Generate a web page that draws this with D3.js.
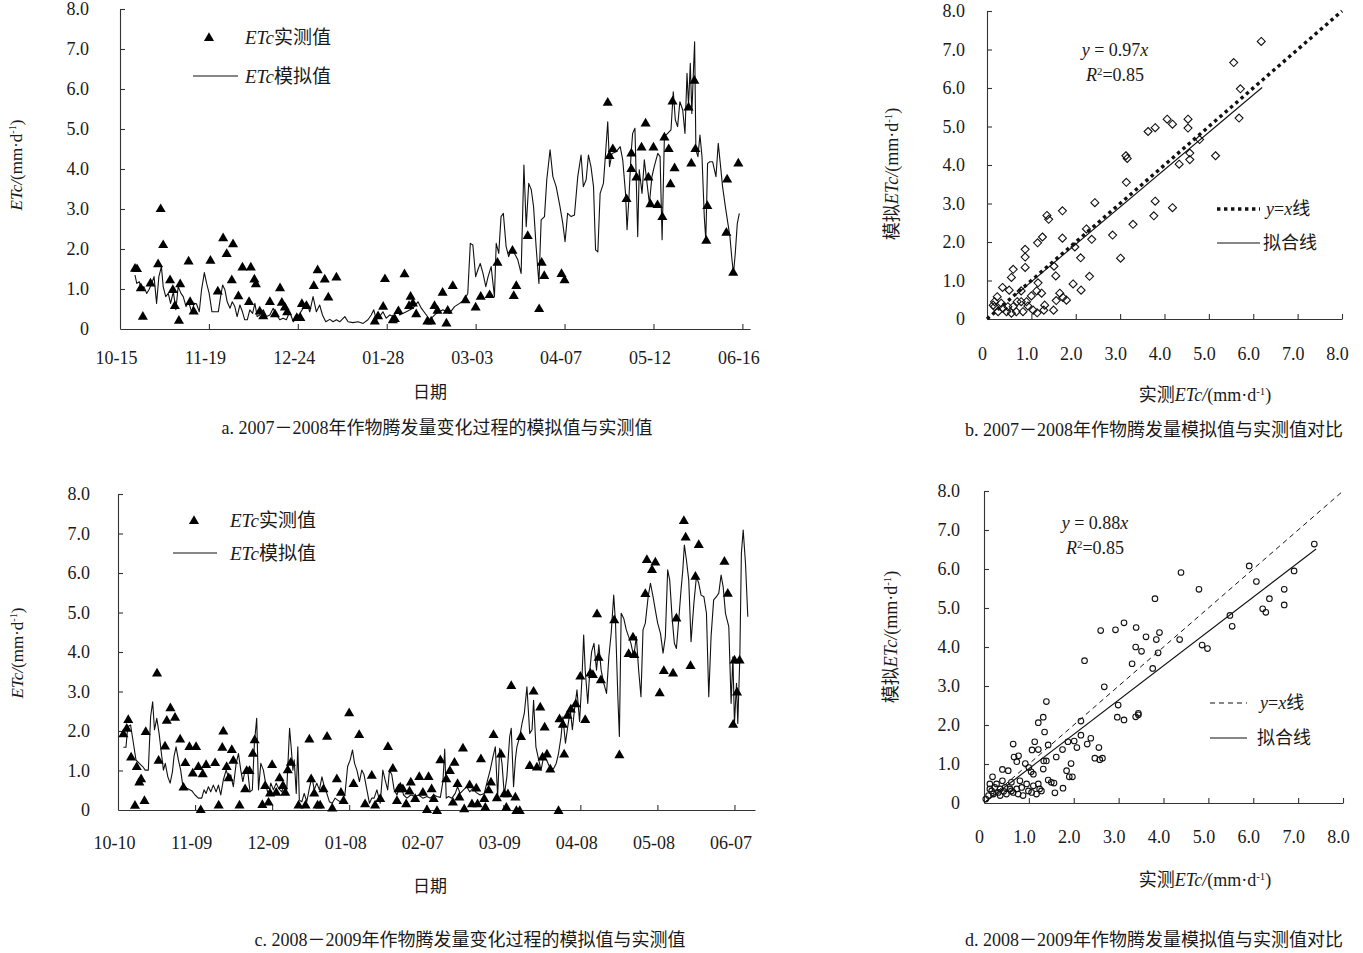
<!DOCTYPE html>
<html><head><meta charset="utf-8">
<script src="https://cdn.jsdelivr.net/npm/d3@7"></script>
<style>
body{margin:0;background:#fff}
svg text{font-family:"Liberation Serif","Noto Sans CJK SC",serif;fill:#1a1a1a}
</style>
</head><body>
<svg id="chart" width="1363" height="953"></svg>
<script>
// ---------- DATA ----------
const aTickLabels = ["10-15","11-19","12-24","01-28","03-03","04-07","05-12","06-16"]; // every 35 days
const cTickLabels = ["10-10","11-09","12-09","01-08","02-07","03-09","04-08","05-08","06-07"]; // every 30 days
const valueTicks = [0,1,2,3,4,5,6,7,8];

// panel a: [day since 10-15, ETc]
const aMeasured = [[5.9,1.53],[6.7,1.52],[8.2,1.04],[9,0.33],[12,1.16],[15,1.64],[16,3.02],[17,2.12],[19.7,1.24],[20.8,1.0],[21.6,0.6],[23.2,0.23],[23.7,1.14],[27,1.71],[27.6,0.7],[29,0.46],[35.6,1.73],[38.5,0.96],[40.6,2.29],[42,1.9],[44.5,2.14],[44,1.24],[46.6,0.84],[48.2,1.56],[50.8,0.7],[51.5,1.56],[52.9,1.26],[53.5,1.14],[55,0.46],[56.4,0.34],[59,0.7],[61,0.39],[63,1.04],[63.7,0.68],[64.9,0.56],[65.8,0.44],[69.6,0.3],[71,0.3],[71.6,0.65],[73.4,0.6],[76.3,1.1],[77.8,1.49],[80.6,1.26],[82,0.81],[85.2,1.31],[100.3,0.21],[101.6,0.34],[103.6,0.58],[104.3,1.27],[107.4,0.24],[108.2,0.27],[109.6,0.47],[112,1.39],[113.8,0.6],[114.4,0.83],[115.3,0.66],[116.6,0.39],[121,0.21],[122.5,0.21],[123.8,0.6],[125,0.48],[127,0.93],[128.5,0.16],[129,0.48],[131,1.1],[136,0.74],[140,0.56],[142,0.83],[145.5,0.87],[148.6,1.68],[154.5,1.98],[155,0.85],[156,1.1],[160.5,2.35],[165,0.52],[166,1.68],[167,1.35],[173.8,1.4],[175,1.24],[192,5.68],[192.7,4.35],[194,4.52],[199.4,3.27],[201.3,4.41],[201.3,4.02],[203.3,3.81],[205.3,4.56],[206.9,5.16],[208,3.81],[208.8,3.14],[210,4.56],[211.6,3.12],[213.5,2.82],[214.3,4.81],[216,4.52],[216.7,3.64],[218.3,4.04],[217.5,5.71],[223.8,5.56],[226.1,6.23],[224.9,4.16],[226.5,4.52],[231.2,3.1],[230.8,2.23],[239,3.76],[238.7,2.43],[241.4,1.43],[243.4,4.16]];

const aSimulated = [[5.9,1.35],[6.6,1.14],[7.6,1.18],[8.5,0.98],[9.4,1.06],[10.5,0.89],[11.4,0.98],[12.5,1.14],[13.4,1.31],[14.4,0.64],[15.3,1.31],[16.3,1.56],[17,1.06],[18,0.81],[19,0.89],[19.9,0.64],[21,0.93],[22,0.48],[22.9,1.06],[24,0.89],[24.9,0.81],[26,0.56],[27,0.68],[28.2,0.43],[29.2,0.64],[30.1,0.63],[31.2,0.43],[32.1,0.98],[33.2,1.41],[34.1,1.14],[35.1,0.89],[36.2,0.43],[37.4,0.43],[38.7,0.43],[39.6,0.81],[40.4,1.1],[41.3,0.98],[42.2,0.68],[43.3,0.52],[44.2,0.68],[45.2,0.56],[46.1,0.31],[47.2,0.6],[48.2,0.43],[49.1,0.23],[50.1,0.23],[51.1,0.48],[52.2,0.39],[53.1,0.64],[54,0.31],[55,0.35],[56.4,0.48],[57.7,0.31],[59,0.35],[60.3,0.52],[61.6,0.35],[62.9,0.23],[64.2,0.27],[65.5,0.23],[66.8,0.43],[68.2,0.18],[69.5,0.27],[70.8,0.39],[72.1,0.52],[73.4,0.68],[74.7,0.43],[76,0.81],[77.3,0.43],[78.6,0.6],[79.7,0.35],[81,0.18],[82.6,0.24],[83.9,0.18],[85.2,0.23],[86.5,0.18],[88.5,0.31],[89.8,0.18],[91.7,0.16],[93.7,0.18],[95.7,0.14],[97.6,0.23],[98.9,0.35],[99.9,0.48],[100.9,0.23],[102.2,0.31],[103.5,0.43],[104.8,0.27],[106.2,0.35],[107.5,0.31],[109.4,0.52],[110.1,0.35],[112.7,0.43],[115.3,0.52],[117.3,0.68],[118.6,0.52],[120.6,0.35],[121.9,0.23],[124.5,0.39],[127.1,0.48],[129.7,0.39],[131.7,0.56],[133.7,0.64],[135.6,0.73],[136.9,0.89],[137.9,2.14],[138.9,2.1],[140,1.31],[140.9,1.48],[141.8,1.64],[142.9,1.39],[144,1.06],[144.9,1.31],[146.1,1.56],[147.4,0.81],[148.1,2.14],[149.1,1.89],[150,2.81],[150.9,2.89],[152,2.06],[153,1.81],[154,1.98],[155.3,1.89],[156.6,1.73],[157.9,1.39],[159,4.1],[159.9,2.56],[160.9,3.64],[161.9,3.48],[162.8,3.06],[163.8,2.06],[164.9,1.14],[165.8,2.73],[167.1,2.81],[168,3.73],[169.3,4.48],[170.4,3.81],[171.7,3.56],[173.2,3.06],[174.3,2.64],[175.2,2.18],[176.2,2.89],[177.6,2.81],[178.9,2.85],[180.2,3.81],[181.5,4.35],[182.4,3.56],[183.5,3.73],[184.4,4.35],[185.4,4.06],[186.4,3.56],[187.2,1.98],[188.1,1.93],[189,3.39],[190.3,3.64],[191.1,4.35],[192,5.18],[192.7,4.06],[193.7,4.39],[195.3,4.43],[196.9,4.56],[197.9,4.23],[199,3.39],[199.6,2.48],[200.3,3.23],[201.2,4.39],[201.8,4.89],[202.7,5.02],[203.8,2.31],[204.4,3.98],[205.5,3.39],[206.4,4.23],[207.3,3.73],[208.4,3.14],[209.4,3.81],[210.3,4.06],[211.7,4.39],[212.6,4.31],[213.4,2.23],[214.3,4.81],[215.6,4.89],[216.9,4.98],[217.8,5.93],[218.6,5.23],[219.5,5.06],[220.4,5.68],[221.5,5.48],[222.4,4.89],[223.2,6.39],[223.8,5.6],[224.5,6.64],[225.1,5.39],[225.7,6.39],[226.2,7.18],[226.7,4.48],[227.5,4.31],[228.3,4.85],[229.1,4.31],[230,2.81],[230.6,2.23],[231.3,4.14],[232.2,4.18],[233.3,4.18],[234.6,3.81],[235.5,4.64],[236.3,4.14],[237.2,3.56],[238.3,3.06],[239.3,2.64],[240.1,2.31],[240.9,1.73],[241.5,1.39],[242.2,1.89],[243,2.64],[243.8,2.89]];

// panel c: [day since 10-10, ETc]
const cMeasured = [[2.1,1.94],[3.4,2.08],[4,2.3],[5.1,1.35],[6.6,0.13],[7.3,1.11],[8.3,0.72],[9,0.8],[10.3,0.25],[10.8,2.0],[15.2,3.48],[15.8,1.27],[18.3,1.63],[19,2.28],[20.4,2.6],[22.2,2.36],[24.2,1.81],[25.5,0.59],[26.2,1.21],[27.8,1.62],[29.1,0.95],[30.4,1.62],[31.3,1.11],[32.2,0.02],[33,0.93],[34.3,1.16],[37.8,1.21],[39.2,0.14],[40.6,1.6],[41,2.01],[42.3,1.11],[43.1,0.83],[44.3,1.54],[44.9,1.27],[47.3,0.14],[49.5,0.55],[50.1,1.01],[51.2,1.01],[52.5,1.45],[53.2,1.79],[56.2,0.15],[57.3,0.63],[58.6,0.21],[59.2,0.44],[60,1.16],[61.6,0.46],[62.9,0.83],[64.2,0.63],[65.1,0.46],[66.1,1.03],[67.3,1.22],[70.3,0.14],[73,0.14],[74.5,1.81],[75.2,0.8],[76.4,0.44],[77.7,0.14],[78.7,0.14],[80,0.55],[81.4,1.88],[83.4,0.06],[85.2,0.8],[86.8,0.46],[87.8,0.25],[90,2.47],[91.7,0.68],[93.9,1.92],[96.2,0.17],[98.8,0.89],[100.1,0.14],[102.1,0.3],[105.1,1.62],[107,1.07],[108.6,0.25],[109.2,0.55],[109.9,0.59],[110.9,0.55],[112.2,0.17],[113.5,0.49],[114,0.72],[115.7,0.3],[117.3,0.86],[118.7,0.46],[120.3,0.02],[120.9,0.86],[122.1,0.55],[122.9,0.3],[124.2,0.0],[125.5,1.28],[127.8,0.8],[129.2,1.01],[130.4,0.21],[131,1.22],[132.2,0.68],[132.9,0.34],[134.3,1.58],[134.8,0.04],[136.9,0.65],[137.8,0.17],[139.5,0.57],[140,0.17],[141.3,1.31],[142.6,0.3],[143,0.08],[144.3,0.52],[145.2,0.72],[146.2,1.92],[147.5,0.32],[149.1,1.43],[150.4,0.42],[151.2,0.08],[151.8,0.42],[153.1,3.16],[154.7,0.34],[155.1,0.0],[156.4,0.0],[156.9,1.87],[160.3,1.14],[161.8,3.02],[163.1,1.1],[164.4,2.62],[165.3,1.35],[166.1,2.11],[167,1.43],[168.3,1.05],[171.5,0.0],[171.9,2.32],[173.2,2.18],[173.7,1.43],[175,2.41],[176.3,2.57],[178.2,2.7],[180,3.4],[181.9,2.3],[183.9,3.48],[184.9,3.44],[186.5,4.98],[187.1,3.88],[188,3.31],[193.2,4.83],[195.2,1.41],[198.8,3.97],[200.5,4.39],[201,3.95],[205.3,5.49],[205.9,6.35],[207.9,6.1],[209.2,6.29],[210.9,2.98],[212.5,3.54],[216.1,3.48],[217.4,4.87],[220.3,7.34],[221,6.92],[222.9,3.67],[224.8,5.93],[226.1,6.73],[236.1,6.31],[237.4,5.5],[239.5,2.18],[240,3.81],[241,3.0],[242,3.81]];

const cSimulated = [[2.1,1.59],[3.1,1.59],[3.8,2.11],[4.9,2.15],[6,1.69],[7,1.27],[8.3,1.18],[9.6,1.1],[10.6,1.01],[11.8,1.01],[12.7,2.36],[13.5,2.74],[14.2,2.03],[15.1,2.32],[16,1.94],[16.9,1.43],[17.7,1.01],[18.4,1.18],[19.4,0.84],[20.3,0.68],[21.2,0.97],[21.8,1.35],[22.6,1.6],[23.5,1.27],[24.4,1.01],[25.2,0.63],[26.8,0.55],[28.7,0.49],[30,0.38],[31.3,0.3],[32.6,0.3],[33.5,0.51],[34.3,0.42],[35.2,0.59],[36.1,0.46],[37.1,0.63],[38.2,0.46],[39.1,0.63],[40,0.38],[41,0.76],[42.1,1.01],[43,0.84],[43.9,0.89],[44.9,0.59],[46,1.18],[46.9,1.43],[47.8,1.01],[48.6,0.72],[49.5,1.01],[50.4,1.05],[51.4,0.46],[52.3,0.51],[53.1,1.69],[54,2.32],[54.7,0.51],[55.6,1.18],[56.6,1.01],[57.7,0.59],[58.6,0.38],[59.5,0.68],[60.5,0.51],[61.6,0.68],[62.5,0.55],[63.8,0.46],[64.7,0.68],[65.7,0.51],[66.8,2.07],[67.4,1.6],[68.1,1.01],[68.6,1.27],[69.4,0.42],[70,1.6],[70.6,0.25],[71.6,0.21],[72.5,0.42],[73.5,0.21],[74.5,0.55],[75.5,0.84],[76.4,0.51],[77.4,0.68],[78.4,0.51],[79.4,0.84],[80.3,0.59],[81.3,0.42],[82.3,0.21],[83.4,0.17],[84.5,0.3],[85.5,0.25],[86.5,0.21],[87.5,0.25],[88.4,0.42],[89.4,1.1],[90.4,1.27],[91.3,1.52],[92.1,1.18],[93,1.01],[94,0.72],[94.9,1.01],[95.8,0.89],[96.9,0.51],[97.9,0.17],[98.8,0.3],[99.7,0.3],[100.8,0.51],[102.1,0.17],[103.1,1.01],[104,0.76],[105,0.51],[105.7,1.01],[106.6,0.89],[107.5,0.51],[108.6,0.38],[109.6,0.59],[109.9,0.68],[111.2,0.38],[112.5,0.3],[114,0.38],[115.7,0.34],[117,0.38],[118.7,0.3],[120.3,0.34],[121.6,0.3],[122.9,0.38],[124.2,0.34],[125.5,0.32],[126.5,0.72],[127.2,1.54],[127.8,0.3],[128.7,0.34],[130,0.3],[131.3,0.42],[132.2,0.59],[133.2,0.42],[134.5,0.51],[135.8,0.59],[136.9,0.46],[138.2,0.55],[139.5,0.44],[141,0.38],[142.6,0.42],[143.9,0.76],[144.9,1.01],[146,1.35],[146.9,1.6],[147.8,0.34],[148.6,1.56],[149.5,1.18],[150.4,0.38],[151.4,0.84],[152.5,1.86],[153.1,2.07],[154,0.59],[154.7,1.27],[155.3,1.6],[156.4,1.86],[157.3,2.19],[158.2,2.45],[159.2,3.12],[160.3,1.94],[161.2,2.03],[161.8,2.78],[162.7,1.6],[163.8,1.27],[164.7,1.01],[165.7,1.35],[166.8,1.27],[167.7,1.14],[168.6,1.01],[169.6,1.05],[170.6,1.18],[171.5,1.43],[172.5,1.86],[173.2,2.36],[174.2,1.69],[175.1,2.11],[176.1,2.53],[176.9,2.03],[177.7,2.53],[178.7,3.04],[179.7,2.24],[180.6,3.29],[181.3,4.43],[181.9,3.54],[182.9,2.7],[183.7,3.54],[184.4,4.01],[185.3,4.22],[186.3,3.54],[187.2,4.18],[188.1,3.54],[189.1,3.21],[190.2,2.95],[191.1,3.88],[192,4.47],[193,5.44],[193.7,4.73],[194.6,2.87],[195.2,1.86],[195.9,4.98],[196.9,4.85],[197.9,4.56],[198.8,4.39],[199.7,4.22],[200.8,3.88],[201.8,4.39],[202.7,3.54],[203.6,2.87],[204.4,4.56],[205.3,4.73],[206.4,5.4],[207.3,5.74],[208.3,5.4],[209.2,5.06],[210.1,4.73],[211.2,4.47],[212.2,3.97],[213.1,4.39],[214,6.08],[214.8,5.82],[215.7,4.89],[216.6,4.22],[217.4,4.09],[218.3,4.81],[219.2,5.57],[219.9,6.08],[220.5,6.71],[221.3,6.33],[222.2,5.82],[223.1,4.26],[224.2,5.23],[225.2,5.91],[226.1,5.74],[227,5.44],[228.1,5.4],[229.1,4.98],[230,2.87],[230.9,4.39],[231.9,5.32],[233,5.4],[233.9,5.49],[234.8,5.95],[235.6,5.65],[236.5,4.98],[237.8,4.64],[238.7,2.7],[239.4,3.88],[240,2.19],[240.8,3.21],[241.3,2.19],[242.1,3.88],[242.7,6.5],[243.4,7.09],[244.3,6.24],[245.2,4.89]];

// panel b: [measured, simulated] 2007-2008
const bMeasured  = [6.18,5.56,5.71,5.68,5.15,4.79,4.53,4.53,4.57,4.57,4.33,4.06,4.18,3.79,3.63,3.13,3.16,3.14,3.79,3.76,4.18,3.29,3.01,2.83,2.43,2.24,2.36,2.11,2.31,2.12,1.94,1.98,1.70,1.70,1.35,1.39,1.25,1.14,1.51,1.55,0.86,0.86,0.86,0.59,0.55,0.35,0.23,1.15,1.23,1.12,1.00,0.77,0.50,1.64,1.71,1.56,1.30,1.28,1.50,1.04,1.13,0.92,0.81,0.66,0.68,0.59,0.47,0.36,0.25,0.17,0.44,0.55,0.32,0.89,0.77,0.17,0.14,1.79];
const bSimulated = [7.21,6.66,5.98,5.22,4.24,4.66,5.19,4.96,4.31,4.14,4.02,5.19,5.06,4.97,4.87,4.24,4.17,3.55,3.06,2.68,2.89,2.46,1.58,2.18,3.02,2.34,2.07,1.59,1.11,0.75,0.91,1.87,2.81,2.10,2.69,2.59,2.13,1.98,1.37,1.12,1.81,1.61,1.34,1.29,1.08,0.82,0.58,0.94,0.67,0.73,0.60,0.73,0.75,0.67,0.56,0.48,0.36,0.23,0.23,0.23,0.16,0.34,0.19,0.19,0.45,0.32,0.32,0.28,0.19,0.32,0.19,0.15,0.41,0.45,0.45,0.45,0.36,0.49];

// panel d: [measured, simulated] 2008-2009
const dMeasured  = [7.36,6.91,5.91,6.07,6.69,6.69,6.36,6.21,6.28,5.48,5.53,4.86,4.98,4.79,4.39,4.36,3.81,3.91,3.84,3.88,3.76,3.61,3.39,3.38,3.51,3.30,3.12,2.93,2.60,2.24,2.68,2.99,2.97,3.12,3.44,3.44,3.38,1.39,1.32,1.21,1.35,2.16,2.16,2.38,2.30,2.07,1.87,2.01,1.75,1.43,1.13,1.07,1.21,0.65,0.67,0.77,0.73,0.92,1.00,1.05,1.10,1.33,1.39,1.32,1.61,2.47,2.58,2.64,2.56,1.84,1.94,1.90,1.97,1.43,1.50,1.56,1.58,1.76,0.41,0.54,0.19,0.41,0.61,0.80,0.95,1.10,1.21,1.24,1.17,1.06,0.87,0.76,0.65,0.50,0.36,0.21,0.10,0.13,0.24,0.36,0.47,0.58,0.73,0.84,0.13,0.28,0.04,0.17,0.32,0.44,0.61,0.99,1.28];
const dSimulated = [6.64,5.95,6.08,5.68,5.48,5.08,5.24,4.98,4.89,4.81,4.53,4.05,3.96,5.48,5.91,4.19,5.24,4.37,4.19,3.85,3.45,4.26,4.50,4.00,3.89,3.57,4.62,4.44,4.42,3.65,2.98,2.51,2.20,2.13,2.30,2.26,2.21,2.60,2.20,2.06,1.82,2.10,1.74,1.66,1.51,1.42,1.57,1.59,1.37,1.49,1.57,1.36,1.37,1.51,1.18,1.21,1.06,1.01,0.91,0.80,0.74,1.08,1.08,0.87,1.18,1.15,1.11,1.15,1.42,0.83,1.01,0.67,0.67,0.59,0.53,0.51,0.26,0.38,0.86,0.83,0.67,0.57,0.53,0.57,0.49,0.44,0.49,0.36,0.23,0.27,0.19,0.23,0.27,0.23,0.19,0.23,0.19,0.36,0.40,0.36,0.40,0.36,0.36,0.40,0.49,0.49,0.10,0.31,0.27,0.30,0.31,0.31,0.31];

const bFit = {slope:0.97, from:0.65, to:6.2};
const dFit = {slope:0.88, from:0.05, to:7.4};

// ---------- DRAW ----------
const svg = d3.select("#chart");
const INK = "#1a1a1a";

function rich(g, x, y, parts, opt) {
  opt = opt || {};
  const t = g.append("text").attr("x", x).attr("y", y)
    .attr("font-size", opt.size || 18)
    .attr("text-anchor", opt.anchor || "start");
  if (opt.rotate) t.attr("transform", `rotate(-90,${x},${y})`);
  let sup = false;
  parts.forEach(p => {
    const s = t.append("tspan").text(p.t);
    if (p.it) s.attr("font-style", "italic");
    if (p.sup) { s.attr("font-size", "0.6em").attr("dy", "-0.55em"); sup = true; }
    else if (sup) { s.attr("dy", "0.33em"); sup = false; }
  });
  return t;
}
const unitParts = [{t:"(mm·d"},{t:"-1",sup:true},{t:")"}];

function styleAxis(g, fs) {
  g.selectAll("path,line").attr("stroke", "#333").attr("stroke-width", 1.1);
  g.selectAll("text").attr("font-size", fs).attr("fill", INK)
    .attr("font-family", '"Liberation Serif",serif');
}

function timePanel(cfg) {
  const g = svg.append("g");
  const x = d3.scaleLinear().domain([0, 248]).range([cfg.x0, cfg.x1]);
  const y = d3.scaleLinear().domain([0, 8]).range([cfg.y0, cfg.y1]);
  const tickVals = cfg.labels.map((_, i) => i * cfg.step);
  const xa = g.append("g").attr("transform", `translate(0,${cfg.y0})`)
    .call(d3.axisBottom(x).tickValues(tickVals).tickSize(-5).tickSizeOuter(0)
      .tickPadding(cfg.xPad).tickFormat((d, i) => cfg.labels[i]));
  xa.selectAll(".tick").filter(d => d === 0).select("line").remove();
  styleAxis(xa, 18);
  xa.selectAll("text").attr("dx", -4);
  const ya = g.append("g").attr("transform", `translate(${cfg.x0},0)`)
    .call(d3.axisLeft(y).tickValues(valueTicks).tickSize(-5).tickSizeOuter(0)
      .tickPadding(cfg.yPad).tickFormat(d => d === 0 ? "0" : d.toFixed(1)));
  ya.selectAll(".tick").filter(d => d === 0).select("line").remove();
  styleAxis(ya, 18);

  const line = d3.line().x(d => x(d[0])).y(d => y(d[1]));
  g.append("path").datum(cfg.sim).attr("d", line)
    .attr("fill", "none").attr("stroke", "#111").attr("stroke-width", 1.1)
    .attr("stroke-linejoin", "round");
  const tri = d3.symbol().type(d3.symbolTriangle).size(44);
  g.selectAll(".m").data(cfg.meas).join("path")
    .attr("d", tri).attr("fill", "#000")
    .attr("transform", d => `translate(${x(d[0])},${y(d[1]) + 1})`);

  // legend
  const L = cfg.legend;
  g.append("path").attr("d", tri).attr("fill", "#000")
    .attr("transform", `translate(${L.triX},${L.y1 + 1})`);
  rich(g, L.textX, L.y1 + 7, [{t:"ETc",it:true},{t:"实测值"}], {size:19});
  g.append("line").attr("x1", L.lx0).attr("x2", L.lx1).attr("y1", L.y2).attr("y2", L.y2)
    .attr("stroke", "#111").attr("stroke-width", 1.1);
  rich(g, L.textX, L.y2 + 7, [{t:"ETc",it:true},{t:"模拟值"}], {size:19});

  rich(g, cfg.yTitleX, cfg.yTitleY, [{t:"ETc/",it:true}, ...unitParts], {size:17, anchor:"middle", rotate:true});
  rich(g, cfg.dateX, cfg.dateY, [{t:"日期"}], {size:17, anchor:"middle"});
  rich(g, cfg.capX, cfg.capY, [{t:cfg.caption}], {size:18, anchor:"middle"});
}

function scatterPanel(cfg) {
  const g = svg.append("g");
  const x = d3.scaleLinear().domain([0, 8]).range([cfg.x0, cfg.x1]);
  const y = d3.scaleLinear().domain([0, 8]).range([cfg.y0, cfg.y1]);
  const fmt = d => d === 0 ? "0" : d.toFixed(1);
  const xa = g.append("g").attr("transform", `translate(0,${cfg.y0})`)
    .call(d3.axisBottom(x).tickValues(valueTicks).tickSize(-5).tickSizeOuter(0)
      .tickPadding(cfg.xPad).tickFormat(fmt));
  xa.selectAll(".tick").filter(d => d === 0).select("line").remove();
  styleAxis(xa, 18);
  xa.selectAll("text").attr("dx", -5);
  const ya = g.append("g").attr("transform", `translate(${cfg.x0},0)`)
    .call(d3.axisLeft(y).tickValues(valueTicks).tickSize(-5).tickSizeOuter(0)
      .tickPadding(cfg.yPad).tickFormat(fmt));
  ya.selectAll(".tick").filter(d => d === 0).select("line").remove();
  styleAxis(ya, 18);

  const pts = cfg.mx.map((v, i) => [v, cfg.sy[i]]);
  if (cfg.marker === "diamond") {
    g.selectAll(".p").data(pts).join("path")
      .attr("d", "M0,-4L4,0L0,4L-4,0Z").attr("fill", "none")
      .attr("stroke", "#111").attr("stroke-width", 1.1)
      .attr("transform", d => `translate(${x(d[0])},${y(d[1])})`);
  } else {
    g.selectAll(".p").data(pts).join("circle")
      .attr("cx", d => x(d[0])).attr("cy", d => y(d[1])).attr("r", 2.8)
      .attr("fill", "none").attr("stroke", "#111").attr("stroke-width", 1.1);
  }
  // y = x line
  const idl = g.append("line").attr("x1", x(0)).attr("y1", y(0)).attr("x2", x(8)).attr("y2", y(8))
    .attr("stroke", "#111");
  const styleId = s => cfg.dotted
    ? s.attr("stroke-width", 3.4).attr("stroke-dasharray", "3.4,3.6")
    : s.attr("stroke-width", 1).attr("stroke-dasharray", "5,4");
  styleId(idl);
  // fit line
  g.append("line").attr("x1", x(cfg.fit.from)).attr("y1", y(cfg.fit.from * cfg.fit.slope))
    .attr("x2", x(cfg.fit.to)).attr("y2", y(cfg.fit.to * cfg.fit.slope))
    .attr("stroke", "#111").attr("stroke-width", 1.1);

  // equation
  rich(g, cfg.eqX, cfg.eqY, [{t:"y",it:true},{t:" = " + cfg.fit.slope.toFixed(2)},{t:"x",it:true}], {size:18, anchor:"middle"});
  rich(g, cfg.eqX, cfg.eqY + 25, [{t:"R",it:true},{t:"2",sup:true},{t:"=0.85"}], {size:18, anchor:"middle"});

  // legend
  const L = cfg.legend;
  styleId(g.append("line").attr("x1", L.lx0).attr("x2", L.lx1).attr("y1", L.y1).attr("y2", L.y1).attr("stroke", "#111"));
  rich(g, L.t1, L.y1 + 6, [{t:"y",it:true},{t:"="},{t:"x",it:true},{t:"线"}], {size:18});
  g.append("line").attr("x1", L.lx0).attr("x2", L.lx1).attr("y1", L.y2).attr("y2", L.y2)
    .attr("stroke", "#111").attr("stroke-width", 1.1);
  rich(g, L.t2, L.y2 + 6, [{t:"拟合线"}], {size:18});

  rich(g, cfg.yTitleX, cfg.yTitleY, [{t:"模拟"},{t:"ETc/",it:true}, ...unitParts], {size:18, anchor:"middle", rotate:true});
  rich(g, cfg.xTitleX, cfg.xTitleY, [{t:"实测"},{t:"ETc/",it:true}, ...unitParts], {size:18, anchor:"middle"});
  rich(g, cfg.capX, cfg.capY, [{t:cfg.caption}], {size:18, anchor:"middle"});
}

timePanel({x0:120, x1:750, y0:329, y1:9, step:35, labels:aTickLabels, xPad:22, yPad:31,
  sim:aSimulated, meas:aMeasured,
  legend:{triX:209, y1:37, lx0:193, lx1:238, y2:76, textX:245},
  yTitleX:22, yTitleY:165, dateX:430, dateY:398,
  capX:437, capY:434, caption:"a. 2007－2008年作物腾发量变化过程的模拟值与实测值"});

timePanel({x0:118, x1:755, y0:810, y1:494, step:30, labels:cTickLabels, xPad:26, yPad:28,
  sim:cSimulated, meas:cMeasured,
  legend:{triX:194, y1:520, lx0:173, lx1:217, y2:553, textX:230},
  yTitleX:23, yTitleY:653, dateX:430, dateY:892,
  capX:470, capY:946, caption:"c. 2008－2009年作物腾发量变化过程的模拟值与实测值"});

scatterPanel({x0:987, x1:1342, y0:319, y1:11, xPad:28, yPad:22, marker:"diamond", dotted:true,
  mx:bMeasured, sy:bSimulated, fit:bFit, eqX:1115, eqY:56,
  legend:{lx0:1217, lx1:1260, y1:209, y2:243, t1:1266, t2:1263},
  yTitleX:898, yTitleY:174, xTitleX:1205, xTitleY:401,
  capX:1154, capY:436, caption:"b. 2007－2008年作物腾发量模拟值与实测值对比"});

scatterPanel({x0:984, x1:1343, y0:803, y1:491, xPad:27, yPad:24, marker:"circle", dotted:false,
  mx:dMeasured, sy:dSimulated, fit:dFit, eqX:1095, eqY:529,
  legend:{lx0:1210, lx1:1247, y1:703, y2:738, t1:1260, t2:1257},
  yTitleX:897, yTitleY:637, xTitleX:1205, xTitleY:886,
  capX:1154, capY:946, caption:"d. 2008－2009年作物腾发量模拟值与实测值对比"});
</script>
</body></html>
